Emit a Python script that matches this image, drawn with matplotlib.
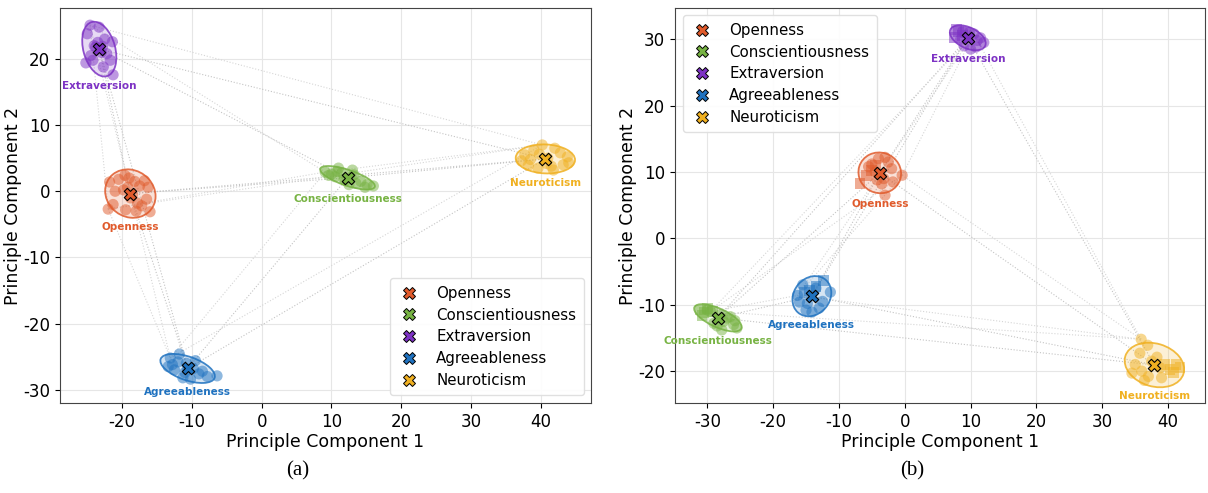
import numpy as np
import matplotlib.pyplot as plt
from matplotlib.patches import Ellipse
from matplotlib.lines import Line2D

plt.rcParams['axes.unicode_minus'] = False

traits = ['Openness', 'Conscientiousness', 'Extraversion', 'Agreeableness', 'Neuroticism']
colors = ['#e05a2b', '#77b343', '#7d32c4', '#1f72c0', '#f0b020']

# (a) points per trait
a_x = [
    [-22.0, -21.8, -20.5, -19.8, -19.0, -18.2, -17.5, -16.3, -16.0, -21.3, -19.5, -18.5, -17.8, -16.8, -21.0, -19.2, -18.0, -16.5, -19.6, -18.8, -17.2],
    [9.1, 11.0, 13.0, 16.0, 15.1, 10.0, 10.5, 11.5, 12.0, 12.8, 13.5, 14.2, 14.8, 9.6, 11.8, 13.2, 10.8, 12.5],
    [-24.6, -23.3, -25.0, -21.4, -25.2, -22.7, -21.3, -21.7, -24.0, -23.0, -22.5, -24.5, -23.8, -22.2, -23.5, -24.2, -22.8],
    [-13.1, -11.8, -6.4, -13.4, -11.3, -7.8, -12.5, -10.8, -9.8, -9.0, -12.0, -10.2, -8.5, -11.0, -9.5, -12.8, -10.6],
    [40.2, 37.7, 44.0, 39.6, 41.5, 38.5, 42.8, 43.2, 39.0, 41.0, 42.0, 38.2, 40.8, 43.8, 37.2, 41.8, 39.8],
]
a_y = [
    [-2.7, 1.4, 1.8, 0.2, 2.0, 1.5, 0.8, 0.6, -3.1, -2.0, -2.8, -0.5, -1.8, 1.6, 0.0, 0.6, -3.0, -1.2, 2.4, -1.0, -2.2],
    [2.9, 3.5, 3.2, 0.8, 1.0, 2.6, 2.2, 2.8, 1.6, 2.1, 1.2, 1.5, 0.6, 2.4, 1.8, 2.5, 3.0, 1.0],
    [25.1, 24.8, 23.8, 22.6, 19.4, 18.8, 17.6, 19.8, 22.0, 21.0, 23.0, 20.5, 21.8, 20.8, 22.5, 19.8, 21.9],
    [-25.2, -24.6, -27.9, -26.5, -28.2, -28.0, -27.0, -26.0, -26.8, -27.6, -25.8, -28.4, -27.2, -27.4, -25.6, -26.2, -26.9],
    [7.0, 5.5, 4.3, 3.5, 3.8, 4.8, 5.8, 4.0, 6.2, 5.0, 6.5, 3.9, 4.2, 5.2, 4.6, 3.2, 5.6],
]

# (b) circle points per trait
b_x = [
    [-0.4, -3.0, -5.0, -4.0, -2.5, -3.5, -4.5, -2.0, -3.2, -5.5, -1.8, -4.2, -3.0],
    [-29.5, -28.0, -27.0, -26.0, -25.5, -28.5, -27.5, -26.5, -30.0, -29.0, -27.8, -25.8],
    [10.5, 11.5, 12.0, 9.0, 10.0, 8.5, 11.0, 9.8, 10.8, 8.8],
    [-16.3, -11.3, -14.1, -15.5, -13.0, -14.8, -12.5, -15.0, -13.5, -16.0],
    [35.9, 36.9, 35.7, 34.5, 36.4, 38.3, 37.0, 38.8, 35.0, 37.5, 36.0, 39.0],
]
b_y = [
    [9.5, 6.5, 11.2, 12.0, 11.5, 8.2, 10.0, 10.5, 9.0, 10.8, 8.5, 8.8, 12.2],
    [-11.0, -11.5, -12.0, -13.0, -13.5, -13.2, -12.5, -11.8, -10.8, -12.8, -13.8, -12.4],
    [30.8, 30.2, 29.5, 29.0, 28.5, 30.0, 29.8, 31.0, 28.8, 31.2],
    [-8.6, -8.1, -11.1, -7.0, -10.5, -9.8, -9.5, -10.8, -7.5, -9.6],
    [-15.2, -16.1, -17.3, -20.3, -21.4, -17.9, -20.8, -19.5, -19.0, -18.5, -20.0, -21.0],
]
# (b) square points per trait
bs_x = [
    [-6.8, -5.8, -5.0, -4.4],
    [-31.0, -30.5, -30.0, -29.2, -30.8],
    [7.8, 8.2, 8.8, 9.2, 7.6],
    [-12.4, -13.5, -14.5, -15.2],
    [40.3, 41.8, 40.8, 39.5, 41.2],
]
bs_y = [
    [8.3, 9.5, 10.2, 11.0],
    [-10.8, -11.2, -10.6, -11.0, -11.6],
    [31.5, 31.2, 30.5, 31.0, 30.2],
    [-6.3, -7.2, -7.8, -8.2],
    [-19.7, -19.4, -20.2, -19.0, -19.0],
]


def conf_ellipse(ax, x, y, color, n_std=2.0):
    cov = np.cov(x, y)
    vals, vecs = np.linalg.eigh(cov)
    order = vals.argsort()[::-1]
    vals, vecs = vals[order], vecs[:, order]
    angle = np.degrees(np.arctan2(vecs[1, 0], vecs[0, 0]))
    w, h = 2 * n_std * np.sqrt(vals)
    ax.add_patch(Ellipse((np.mean(x), np.mean(y)), w, h, angle=angle,
                         facecolor=color, alpha=0.18, edgecolor='none', zorder=2))
    ax.add_patch(Ellipse((np.mean(x), np.mean(y)), w, h, angle=angle,
                         facecolor='none', edgecolor=color, alpha=0.85, lw=1.3, zorder=3))
    return np.mean(y) - n_std * np.sqrt(cov[1, 1])


def draw_panel(ax, xs, ys, sq_x=None, sq_y=None):
    allx, ally = [], []
    for i in range(len(traits)):
        px = list(xs[i])
        py = list(ys[i])
        if sq_x is not None:
            px += sq_x[i]
            py += sq_y[i]
        allx.append(np.array(px))
        ally.append(np.array(py))
    cents = [(px.mean(), py.mean()) for px, py in zip(allx, ally)]

    # connecting lines
    for i in range(len(traits)):
        for j in range(i + 1, len(traits)):
            ax.plot([cents[i][0], cents[j][0]], [cents[i][1], cents[j][1]],
                    ls=':', color='#c4c4c4', lw=0.8, zorder=1)
            ax.plot([xs[i][0], xs[j][0]], [ys[i][0], ys[j][0]],
                    ls=':', color='#d6d6d6', lw=0.8, zorder=1)

    for i, (t, c) in enumerate(zip(traits, colors)):
        ax.scatter(xs[i], ys[i], s=65, color=c, alpha=0.5, edgecolors='none', zorder=4)
        if sq_x is not None:
            ax.scatter(sq_x[i], sq_y[i], s=60, marker='s', color=c, alpha=0.5,
                       edgecolors='none', zorder=4)
        bottom = conf_ellipse(ax, allx[i], ally[i], c)
        bottom = min(bottom, ally[i].min())
        ax.scatter([cents[i][0]], [cents[i][1]], s=80, marker='X', color=c,
                   edgecolors='black', linewidths=0.8, zorder=6)
        ax.annotate(t, (cents[i][0], bottom), xytext=(0, -3), textcoords='offset points',
                    ha='center', va='top', color=c, fontsize=7.5, fontweight='bold', zorder=7)

    ax.grid(True, color='#e6e6e6', lw=0.8, zorder=0)
    ax.set_axisbelow(True)
    for s in ax.spines.values():
        s.set_color('#444444')
    ax.tick_params(labelsize=12)
    ax.set_xlabel('Principle Component 1', fontsize=12.5, labelpad=2)
    ax.set_ylabel('Principle Component 2', fontsize=12.5, labelpad=1)


handles = [Line2D([], [], ls='none', marker='X', markersize=8.5, markerfacecolor=c,
                  markeredgecolor='black', markeredgewidth=0.7) for c in colors]
leg_kw = dict(fontsize=10.8, handlelength=1.6, handletextpad=1.0, borderpad=0.5,
              labelspacing=0.45, framealpha=0.9, edgecolor='#dddddd')

fig = plt.figure(figsize=(12.08, 4.93), dpi=100)
ax1 = fig.add_axes([0.0497, 0.1826, 0.4396, 0.8012])
ax2 = fig.add_axes([0.5588, 0.1826, 0.4387, 0.8012])

draw_panel(ax1, a_x, a_y)
ax1.set_xlim(-28.9, 47.2)
ax1.set_ylim(-32, 27.7)
ax1.set_xticks([-20, -10, 0, 10, 20, 30, 40])
ax1.set_yticks([-30, -20, -10, 0, 10, 20])
ax1.legend(handles, traits, loc='lower right', **leg_kw)

draw_panel(ax2, b_x, b_y, bs_x, bs_y)
ax2.set_xlim(-34.9, 45.6)
ax2.set_ylim(-24.8, 34.7)
ax2.set_xticks([-30, -20, -10, 0, 10, 20, 30, 40])
ax2.set_yticks([-20, -10, 0, 10, 20, 30])
ax2.legend(handles, traits, loc='upper left', **leg_kw)

fig.text(0.2467, 0.035, '(a)', family='Liberation Serif', fontsize=15, ha='center')
fig.text(0.755, 0.035, '(b)', family='Liberation Serif', fontsize=15, ha='center')

fig.savefig('out.png', dpi=100)
